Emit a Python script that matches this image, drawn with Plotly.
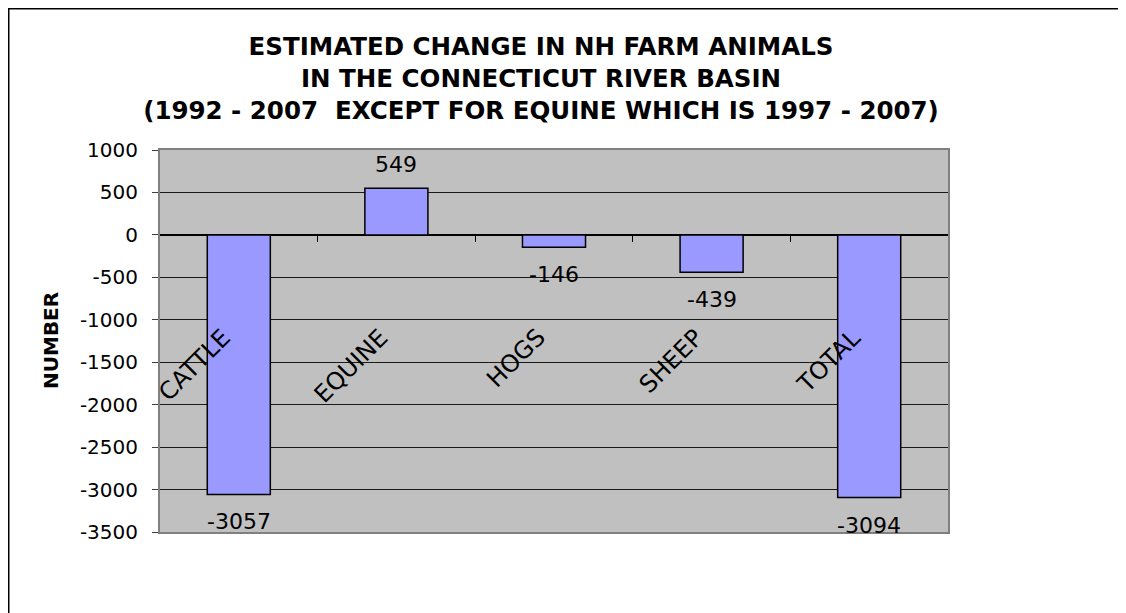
import plotly.graph_objects as go

categories = ["CATTLE", "EQUINE", "HOGS", "SHEEP", "TOTAL"]
changes = [-3057, 549, -146, -439, -3094]
y_ticks = [1000, 500, 0, -500, -1000, -1500, -2000, -2500, -3000, -3500]
title_lines = [
    "ESTIMATED CHANGE IN NH FARM ANIMALS",
    "IN THE CONNECTICUT RIVER BASIN",
    "(1992 - 2007  EXCEPT FOR EQUINE WHICH IS 1997 - 2007)",
]
y_title = "NUMBER"

# figure size (page body adds an 8px offset)
W, H = 1118, 605
ML, MR, MT, MB = 152, 178, 142, 81
ymin, ymax = min(y_ticks), max(y_ticks)
xs = list(range(len(categories)))
plot_w = W - ML - MR
plot_h = H - MT - MB


def px_x(p):
    return (p - ML) / plot_w


def px_y(p):
    return (H - MB - p) / plot_h


FONT = "DejaVu Sans, Arial, sans-serif"

fig = go.Figure()
fig.add_trace(go.Bar(
    x=xs, y=changes, width=0.4,
    marker=dict(color="#9999FF", line=dict(color="#000000", width=1.5)),
    hoverinfo="skip", showlegend=False,
))
# invisible trace to host the category tick axis along y = 0
fig.add_trace(go.Scatter(
    x=[xs[0]], y=[0], xaxis="x2", mode="markers",
    marker=dict(opacity=0), hoverinfo="skip", showlegend=False,
))

annotations = []
# data labels
for i, v in zip(xs, changes):
    annotations.append(dict(
        x=i, y=v, xref="x", yref="y", text=str(v), showarrow=False,
        xanchor="center", yanchor="bottom" if v >= 0 else "top",
        yshift=9 if v >= 0 else -13,
        font=dict(family=FONT, size=22, color="#000000"),
    ))
# rotated category labels (Excel-style, drawn inside the plot)
for i, c in zip(xs, categories):
    annotations.append(dict(
        x=i, y=-1010, xref="x", yref="y", text=c, showarrow=False,
        textangle=-45, xanchor="right", yanchor="top", xshift=0,
        font=dict(family=FONT, size=24, color="#000000"),
    ))
# y axis title
annotations.append(dict(
    x=0, y=0.5, xref="paper", yref="paper", text="<b>%s</b>" % y_title,
    showarrow=False, textangle=-90, xanchor="center", yanchor="middle",
    xshift=-109, font=dict(family=FONT, size=20, color="#000000"),
))

shapes = [dict(
    type="rect", xref="paper", yref="paper",
    x0=px_x(0.75), x1=px_x(1113), y0=px_y(H + 10), y1=px_y(0.75),
    line=dict(color="#000000", width=1.5), fillcolor="rgba(0,0,0,0)", layer="below",
)]

fig.update_layout(
    width=W, height=H, autosize=False,
    margin=dict(l=ML, r=MR, t=MT, b=MB, pad=0),
    paper_bgcolor="#FFFFFF", plot_bgcolor="#C0C0C0",
    title=dict(
        text="<br>".join(title_lines), xref="container", x=533 / W,
        xanchor="center", y=1 - 47 / H, yref="container", yanchor="middle",
        font=dict(family="DejaVu Sans, Arial, sans-serif", size=24.5, color="#000000",
                  weight="bold"),
    ),
    xaxis=dict(
        range=[-0.5, len(categories) - 0.5], showticklabels=False, showgrid=False,
        zeroline=False, showline=True, mirror=True, linecolor="#808080", linewidth=2,
        ticks="", fixedrange=True,
    ),
    xaxis2=dict(
        overlaying="x", anchor="free", position=(0 - ymin) / (ymax - ymin),
        range=[-0.5, len(categories) - 0.5], tickmode="array",
        tickvals=[i + 0.5 for i in xs[:-1]], ticks="outside", ticklen=6,
        tickcolor="#000000", tickwidth=1, showticklabels=False, showgrid=False,
        zeroline=False, showline=False, side="bottom",
    ),
    yaxis=dict(
        range=[ymin, ymax], tickmode="array", tickvals=y_ticks,
        ticktext=[str(t) for t in y_ticks],
        showgrid=True, gridcolor="#1a1a1a", gridwidth=1,
        zeroline=True, zerolinecolor="#000000", zerolinewidth=1.5,
        showline=True, mirror=True, linecolor="#808080", linewidth=2,
        ticks="outside", ticklen=6, tickcolor="#404040",
        ticklabelstandoff=10,
        tickfont=dict(family=FONT, size=20, color="#000000"),
    ),
    annotations=annotations, shapes=shapes,
    bargap=0.6,
)

fig.write_html("out.html")
